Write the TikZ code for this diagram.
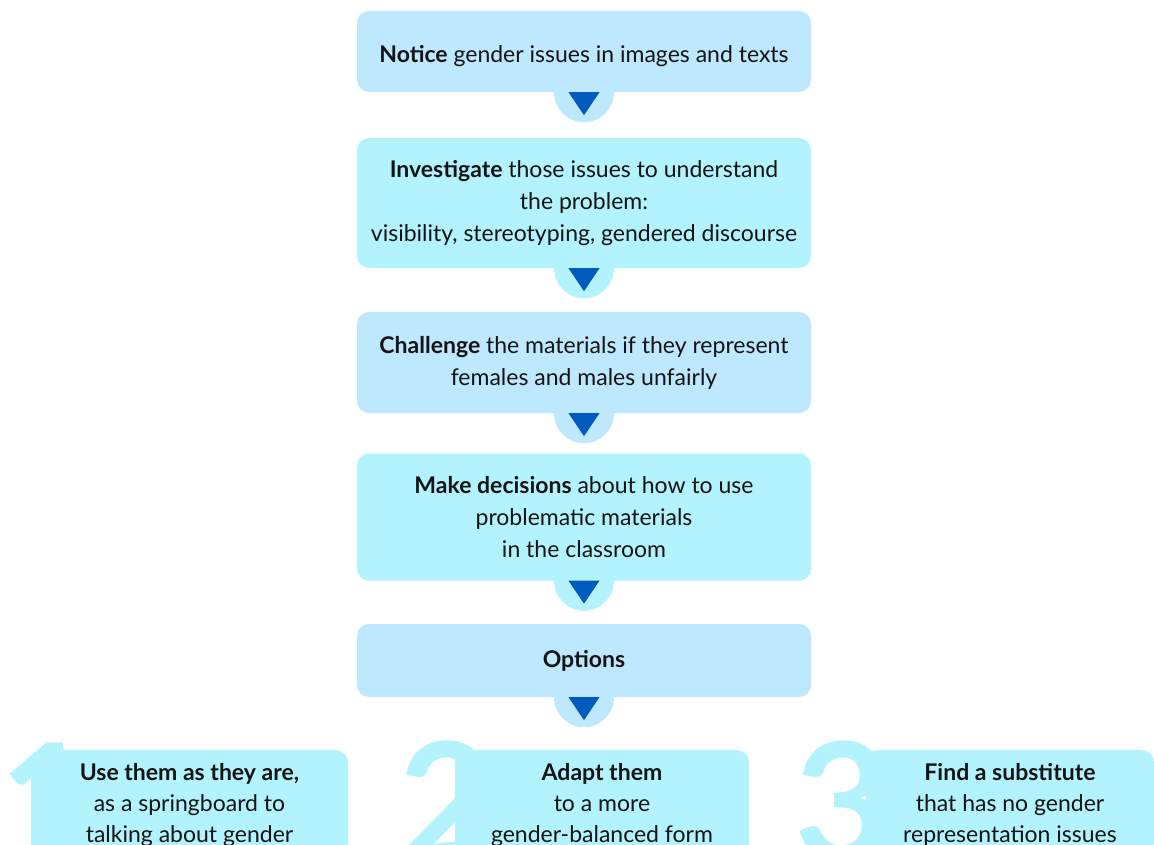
\documentclass[tikz,border=0pt]{standalone}
\usepackage{fontspec}
\setmainfont{Lato}
\usetikzlibrary{backgrounds}
\definecolor{paleblue}{HTML}{BDE8FD}
\definecolor{palecyan}{HTML}{B3F3FD}
\definecolor{arrowblue}{HTML}{005BBF}
\definecolor{inkblack}{HTML}{141414}

\tikzstyle{rec} = [rectangle, rounded corners=12pt, fill = paleblue, minimum width = 454pt, inner sep = 0pt, text centered, text = inkblack, align=center, font=\fontsize{23}{32}\selectfont]
\tikzstyle{rec1} = [rec, fill = palecyan]
\tikzstyle{opt} = [rectangle, rounded corners=12pt, fill = palecyan, anchor = north, inner xsep = 0pt, inner ysep = 13pt, text centered, text = inkblack, align=center, font=\fontsize{23}{31}\selectfont]
\tikzstyle{digit} = [anchor = north west, inner sep = 0pt, text = palecyan, font=\fontsize{165}{165}\selectfont\bfseries]
\tikzstyle{arrow} = [fill = arrowblue]

\begin{document}
\begin{tikzpicture}[x=1pt, y=-1pt]
    \useasboundingbox (0,0) rectangle (1154,845);
    \clip (0,0) rectangle (1154,845);
    % steps
    \node(notice)[rec, minimum height = 81pt, text height = 26pt, text depth = 4pt] at (584,51.5) {\textbf{Notice} gender issues in images and texts};
    \node(investigate)[rec1, minimum height = 130pt] at (584,203) {\textbf{Investigate} those issues to understand\\the problem:\\visibility, stereotyping, gendered discourse};
    \node(challenge)[rec, minimum height = 101pt] at (584,362.5) {\textbf{Challenge} the materials if they represent\\females and males unfairly};
    \node(decisions)[rec1, minimum height = 127pt] at (584,517) {\textbf{Make decisions} about how to use\\problematic materials\\in the classroom};
    \node(options)[rec, minimum height = 73pt] at (584,660.5) {\textbf{Options}};
    % tabs and arrows
    \begin{pgfonlayer}{background}
        \fill[white] (0,0) rectangle (1154,845);
        \foreach \b/\c in {notice/paleblue, investigate/palecyan, challenge/paleblue, decisions/palecyan, options/paleblue} {
            \fill[\c] (\b.south) circle (30pt);
        }
    \end{pgfonlayer}
    \foreach \b in {notice, investigate, challenge, decisions, options} {
        \fill[arrow] ([xshift=-15.5pt]\b.south) -- ([xshift=15.5pt]\b.south) -- ([yshift=-23pt]\b.south) -- cycle;
    }
    % the three options
    \node(one)[digit] at (-1,743) {1};
    \node(two)[digit] at (398,741) {2};
    \node(three)[digit] at (794,741) {3};
    \node(use)[opt, minimum width = 317pt] at (189.5,750) {\textbf{Use them as they are,}\\as a springboard to\\talking about gender};
    \node(adapt)[opt, minimum width = 294pt] at (602,750) {\textbf{Adapt them}\\to a more\\gender-balanced form};
    \node(substitute)[opt, minimum width = 288pt] at (1010,750) {\textbf{Find a substitute}\\that has no gender\\representation issues};
\end{tikzpicture}
\end{document}
